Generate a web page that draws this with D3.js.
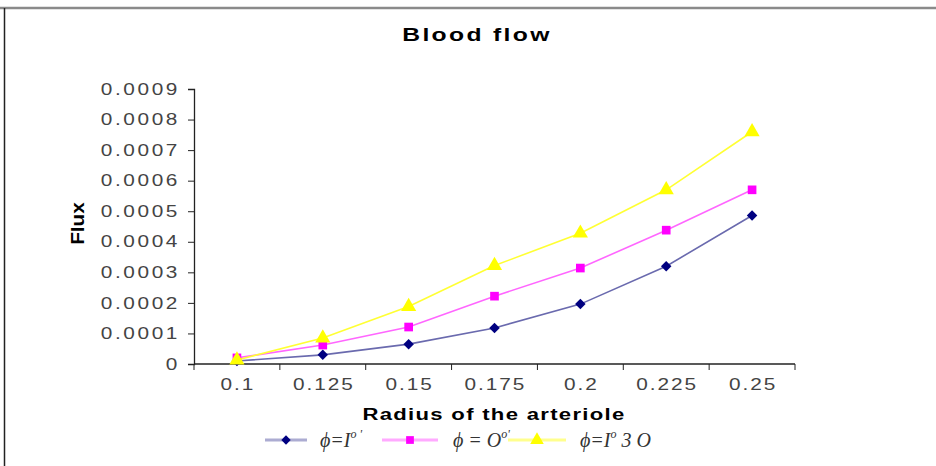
<!DOCTYPE html>
<html>
<head>
<meta charset="utf-8">
<script src="https://cdn.jsdelivr.net/npm/d3@7"></script>
<style>
  body { margin: 0; background: #fff; }
  text { font-family: "Liberation Sans", Arial, sans-serif; }
</style>
</head>
<body>
<div id="chart"></div>
<script>
// data
var radius = ["0.1", "0.125", "0.15", "0.175", "0.2", "0.225", "0.25"];
var flux1 = [0.000010, 0.000030, 0.000065, 0.000118, 0.000196, 0.000320, 0.000486];
var flux2 = [0.000020, 0.000062, 0.000121, 0.000222, 0.000314, 0.000438, 0.000570];
var flux3 = [0.000013, 0.000085, 0.000188, 0.000322, 0.000428, 0.000570, 0.000760];
var yTicks = [0, 0.0001, 0.0002, 0.0003, 0.0004, 0.0005, 0.0006, 0.0007, 0.0008, 0.0009];

var diamond = {draw: function(ctx, size) {
  var r = Math.sqrt(size / 2);
  ctx.moveTo(0, -r); ctx.lineTo(r, 0); ctx.lineTo(0, r); ctx.lineTo(-r, 0); ctx.closePath();
}};

var series = [
  {name: "1", values: flux1, color: "#000080", line: "#6a6aae", shape: diamond, size: 55},
  {name: "2", values: flux2, color: "#ff00ff", line: "#ff66ff", shape: d3.symbolSquare, size: 75},
  {name: "3", values: flux3, color: "#ffff00", line: "#ffff33", shape: d3.symbolTriangle, size: 100}
];

var W = 936, H = 466;
var margin = {top: 89, right: 141, bottom: 102, left: 194},
    width = W - margin.left - margin.right,
    height = H - margin.top - margin.bottom;
var stretch = 1.3; // the original's text is drawn wide

var svg = d3.select("#chart")
  .append("svg")
    .attr("width", W)
    .attr("height", H);

// outer frame (top and left edges visible)
svg.append("line")
  .attr("x1", 0).attr("x2", W).attr("y1", 8).attr("y2", 8)
  .attr("stroke", "#8a8a8a").attr("stroke-width", 2.5);
svg.append("line")
  .attr("x1", 4.5).attr("x2", 4.5).attr("y1", 8).attr("y2", H)
  .attr("stroke", "#222").attr("stroke-width", 1.5);

var g = svg.append("g")
  .attr("transform", "translate(" + margin.left + "," + margin.top + ")");

var x = d3.scaleBand()
  .domain(radius)
  .range([0, width]);

var y = d3.scaleLinear()
  .domain([0, 0.0009])
  .range([height, 0]);

// y axis
var yAxis = g.append("g")
  .call(d3.axisLeft(y).tickValues(yTicks).tickSize(6)
    .tickFormat(function(d) { return d === 0 ? "0" : d.toFixed(4); }));
yAxis.select(".domain").attr("stroke", "#222").attr("stroke-width", 1.3);
yAxis.selectAll(".tick line").attr("stroke", "#222");
yAxis.selectAll(".tick text")
  .attr("x", -14 / stretch)
  .attr("transform", "scale(" + stretch + ",1)")
  .attr("fill", "#444").style("font-size", "16px").style("letter-spacing", "2px");

// x axis with ticks on band edges
var xAxis = g.append("g")
  .attr("transform", "translate(0," + height + ")");
xAxis.append("line")
  .attr("x1", 0).attr("x2", width)
  .attr("stroke", "#222").attr("stroke-width", 1.3);
xAxis.selectAll(".edge")
  .data(radius.concat(["end"]))
  .enter().append("line")
    .attr("x1", function(d, i) { return i * x.bandwidth(); })
    .attr("x2", function(d, i) { return i * x.bandwidth(); })
    .attr("y1", 0).attr("y2", 6)
    .attr("stroke", "#222");
xAxis.selectAll(".lab")
  .data(radius)
  .enter().append("text")
    .attr("transform", function(d) {
      return "translate(" + (x(d) + x.bandwidth() / 2 + 1) + ",26) scale(" + stretch + ",1)";
    })
    .attr("text-anchor", "middle")
    .attr("fill", "#444")
    .style("font-size", "16px")
    .style("letter-spacing", "1.5px")
    .text(function(d) { return d; });

// lines and markers
var line = d3.line()
  .x(function(d, i) { return x(radius[i]) + x.bandwidth() / 2; })
  .y(function(d) { return y(d); });

series.forEach(function(s) {
  g.append("path")
    .datum(s.values)
    .attr("fill", "none")
    .attr("stroke", s.line)
    .attr("stroke-width", 1.6)
    .attr("d", line);
});

series.forEach(function(s) {
  g.selectAll(".pt" + s.name)
    .data(s.values)
    .enter().append("path")
      .attr("transform", function(d, i) {
        return "translate(" + (x(radius[i]) + x.bandwidth() / 2) + "," + y(d) + ")";
      })
      .attr("d", d3.symbol().type(s.shape).size(s.size))
      .attr("fill", s.color);
});

// titles
svg.append("text")
  .attr("transform", "translate(477,41) scale(" + stretch + ",1)")
  .attr("text-anchor", "middle")
  .style("font-size", "19px").style("font-weight", "bold").style("letter-spacing", "1.8px")
  .text("Blood flow");

svg.append("text")
  .attr("transform", "translate(84," + (margin.top + height / 2 - 3) + ") rotate(-90) scale(1.15,1)")
  .attr("text-anchor", "middle")
  .style("font-size", "18px").style("font-weight", "bold")
  .text("Flux");

svg.append("text")
  .attr("transform", "translate(494,420) scale(" + stretch + ",1)")
  .attr("text-anchor", "middle")
  .style("font-size", "17px").style("font-weight", "bold").style("letter-spacing", "1px")
  .text("Radius of the arteriole");

// legend
var legendItems = [
  {s: series[0], x0: 265, x1: 307, tx: 320, base: "ϕ=I", sup: "o '", tail: ""},
  {s: series[1], x0: 382, x1: 438, tx: 453, base: "ϕ = O", sup: "o'", tail: ""},
  {s: series[2], x0: 508, x1: 566, tx: 580, base: "ϕ=I", sup: "o", tail: " 3 O"}
];
var leg = svg.append("g");
legendItems.forEach(function(l) {
  leg.append("line")
    .attr("x1", l.x0).attr("x2", l.x1).attr("y1", 440).attr("y2", 440)
    .attr("stroke", l.s.line).attr("stroke-width", 3).attr("opacity", 0.55);
  leg.append("path")
    .attr("transform", "translate(" + ((l.x0 + l.x1) / 2) + ",440)")
    .attr("d", d3.symbol().type(l.s.shape).size(l.s.size * 0.8))
    .attr("fill", l.s.color);
  var t = leg.append("text")
    .attr("x", l.tx).attr("y", 447)
    .style("font-family", "'Liberation Serif', 'DejaVu Serif', serif")
    .style("font-style", "italic")
    .style("font-size", "20px")
    .attr("fill", "#333");
  t.append("tspan").text(l.base);
  t.append("tspan").attr("dy", -9).style("font-size", "12px").text(l.sup);
  if (l.tail) t.append("tspan").attr("dy", 9).text(l.tail);
});
</script>
</body>
</html>
